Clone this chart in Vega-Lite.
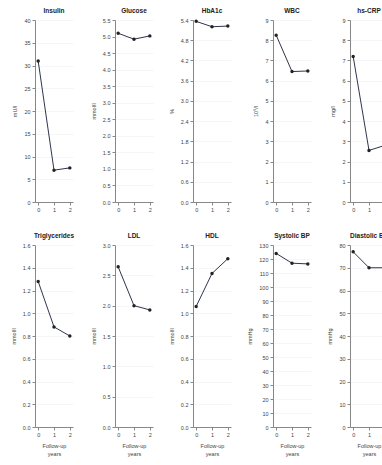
{
  "$schema": "https://vega.github.io/schema/vega-lite/v6.json",
  "background": "white",
  "padding": {"left": 11, "top": 7, "right": 0, "bottom": 0},
  "data": {"values": [
    {"m": "Insulin", "year": 0, "value": 31},
    {"m": "Insulin", "year": 1, "value": 7},
    {"m": "Insulin", "year": 2, "value": 7.5},
    {"m": "Glucose", "year": 0, "value": 5.1},
    {"m": "Glucose", "year": 1, "value": 4.92},
    {"m": "Glucose", "year": 2, "value": 5.02},
    {"m": "HbA1c", "year": 0, "value": 5.36},
    {"m": "HbA1c", "year": 1, "value": 5.2},
    {"m": "HbA1c", "year": 2, "value": 5.22},
    {"m": "WBC", "year": 0, "value": 8.25},
    {"m": "WBC", "year": 1, "value": 6.45},
    {"m": "WBC", "year": 2, "value": 6.48},
    {"m": "hs-CRP", "year": 0, "value": 7.2},
    {"m": "hs-CRP", "year": 1, "value": 2.55},
    {"m": "hs-CRP", "year": 2, "value": 2.8},
    {"m": "Triglycerides", "year": 0, "value": 1.28},
    {"m": "Triglycerides", "year": 1, "value": 0.88},
    {"m": "Triglycerides", "year": 2, "value": 0.8},
    {"m": "LDL", "year": 0, "value": 2.64},
    {"m": "LDL", "year": 1, "value": 2.0},
    {"m": "LDL", "year": 2, "value": 1.93},
    {"m": "HDL", "year": 0, "value": 1.06},
    {"m": "HDL", "year": 1, "value": 1.35},
    {"m": "HDL", "year": 2, "value": 1.48},
    {"m": "Systolic BP", "year": 0, "value": 124},
    {"m": "Systolic BP", "year": 1, "value": 117},
    {"m": "Systolic BP", "year": 2, "value": 116.5},
    {"m": "Diastolic BP", "year": 0, "value": 77},
    {"m": "Diastolic BP", "year": 1, "value": 70},
    {"m": "Diastolic BP", "year": 2, "value": 70}
  ]},
  "columns": 5,
  "spacing": {"column": 16, "row": 19},
  "concat": [
    {
      "title": "Insulin",
      "transform": [{"filter": "datum.m === 'Insulin'"}],
      "width": 38, "height": 182,
      "encoding": {
        "x": {"field": "year", "type": "ordinal", "scale": {"type": "point", "padding": 0.2}, "axis": {"title": null, "labelAngle": 0}},
        "y": {"field": "value", "type": "quantitative", "scale": {"domain": [0, 40]}, "axis": {"title": "mU/l", "values": [0, 5, 10, 15, 20, 25, 30, 35, 40]}}
      },
      "layer": [
        {"mark": {"type": "line", "color": "#2f3550", "strokeWidth": 1}},
        {"mark": {"type": "point", "filled": true, "size": 12, "color": "#222", "opacity": 1}}
      ]
    },
    {
      "title": "Glucose",
      "transform": [{"filter": "datum.m === 'Glucose'"}],
      "width": 38, "height": 182,
      "encoding": {
        "x": {"field": "year", "type": "ordinal", "scale": {"type": "point", "padding": 0.2}, "axis": {"title": null, "labelAngle": 0}},
        "y": {"field": "value", "type": "quantitative", "scale": {"domain": [0, 5.5]}, "axis": {"title": "mmol/l", "format": ".1f", "values": [0, 0.5, 1, 1.5, 2, 2.5, 3, 3.5, 4, 4.5, 5, 5.5]}}
      },
      "layer": [
        {"mark": {"type": "line", "color": "#2f3550", "strokeWidth": 1}},
        {"mark": {"type": "point", "filled": true, "size": 12, "color": "#222", "opacity": 1}}
      ]
    },
    {
      "title": "HbA1c",
      "transform": [{"filter": "datum.m === 'HbA1c'"}],
      "width": 38, "height": 182,
      "encoding": {
        "x": {"field": "year", "type": "ordinal", "scale": {"type": "point", "padding": 0.2}, "axis": {"title": null, "labelAngle": 0}},
        "y": {"field": "value", "type": "quantitative", "scale": {"domain": [0, 5.4]}, "axis": {"title": "%", "format": ".1f", "values": [0, 0.6, 1.2, 1.8, 2.4, 3.0, 3.6, 4.2, 4.8, 5.4]}}
      },
      "layer": [
        {"mark": {"type": "line", "color": "#2f3550", "strokeWidth": 1}},
        {"mark": {"type": "point", "filled": true, "size": 12, "color": "#222", "opacity": 1}}
      ]
    },
    {
      "title": "WBC",
      "transform": [{"filter": "datum.m === 'WBC'"}],
      "width": 38, "height": 182,
      "encoding": {
        "x": {"field": "year", "type": "ordinal", "scale": {"type": "point", "padding": 0.2}, "axis": {"title": null, "labelAngle": 0}},
        "y": {"field": "value", "type": "quantitative", "scale": {"domain": [0, 9]}, "axis": {"title": "10⁹/l", "values": [0, 1, 2, 3, 4, 5, 6, 7, 8, 9]}}
      },
      "layer": [
        {"mark": {"type": "line", "color": "#2f3550", "strokeWidth": 1}},
        {"mark": {"type": "point", "filled": true, "size": 12, "color": "#222", "opacity": 1}}
      ]
    },
    {
      "title": "hs-CRP",
      "transform": [{"filter": "datum.m === 'hs-CRP'"}],
      "width": 38, "height": 182,
      "encoding": {
        "x": {"field": "year", "type": "ordinal", "scale": {"type": "point", "padding": 0.2}, "axis": {"title": null, "labelAngle": 0}},
        "y": {"field": "value", "type": "quantitative", "scale": {"domain": [0, 9]}, "axis": {"title": "mg/l", "values": [0, 1, 2, 3, 4, 5, 6, 7, 8, 9]}}
      },
      "layer": [
        {"mark": {"type": "line", "color": "#2f3550", "strokeWidth": 1}},
        {"mark": {"type": "point", "filled": true, "size": 12, "color": "#222", "opacity": 1}}
      ]
    },
    {
      "title": "Triglycerides",
      "transform": [{"filter": "datum.m === 'Triglycerides'"}],
      "width": 38, "height": 182,
      "encoding": {
        "x": {"field": "year", "type": "ordinal", "scale": {"type": "point", "padding": 0.2}, "axis": {"title": ["Follow-up", "years"], "labelAngle": 0}},
        "y": {"field": "value", "type": "quantitative", "scale": {"domain": [0, 1.6]}, "axis": {"title": "mmol/l", "format": ".1f", "values": [0, 0.2, 0.4, 0.6, 0.8, 1.0, 1.2, 1.4, 1.6]}}
      },
      "layer": [
        {"mark": {"type": "line", "color": "#2f3550", "strokeWidth": 1}},
        {"mark": {"type": "point", "filled": true, "size": 12, "color": "#222", "opacity": 1}}
      ]
    },
    {
      "title": "LDL",
      "transform": [{"filter": "datum.m === 'LDL'"}],
      "width": 38, "height": 182,
      "encoding": {
        "x": {"field": "year", "type": "ordinal", "scale": {"type": "point", "padding": 0.2}, "axis": {"title": ["Follow-up", "years"], "labelAngle": 0}},
        "y": {"field": "value", "type": "quantitative", "scale": {"domain": [0, 3.0]}, "axis": {"title": "mmol/l", "format": ".1f", "values": [0, 0.5, 1.0, 1.5, 2.0, 2.5, 3.0]}}
      },
      "layer": [
        {"mark": {"type": "line", "color": "#2f3550", "strokeWidth": 1}},
        {"mark": {"type": "point", "filled": true, "size": 12, "color": "#222", "opacity": 1}}
      ]
    },
    {
      "title": "HDL",
      "transform": [{"filter": "datum.m === 'HDL'"}],
      "width": 38, "height": 182,
      "encoding": {
        "x": {"field": "year", "type": "ordinal", "scale": {"type": "point", "padding": 0.2}, "axis": {"title": ["Follow-up", "years"], "labelAngle": 0}},
        "y": {"field": "value", "type": "quantitative", "scale": {"domain": [0, 1.6]}, "axis": {"title": "mmol/l", "format": ".1f", "values": [0, 0.2, 0.4, 0.6, 0.8, 1.0, 1.2, 1.4, 1.6]}}
      },
      "layer": [
        {"mark": {"type": "line", "color": "#2f3550", "strokeWidth": 1}},
        {"mark": {"type": "point", "filled": true, "size": 12, "color": "#222", "opacity": 1}}
      ]
    },
    {
      "title": "Systolic BP",
      "transform": [{"filter": "datum.m === 'Systolic BP'"}],
      "width": 38, "height": 182,
      "encoding": {
        "x": {"field": "year", "type": "ordinal", "scale": {"type": "point", "padding": 0.2}, "axis": {"title": ["Follow-up", "years"], "labelAngle": 0}},
        "y": {"field": "value", "type": "quantitative", "scale": {"domain": [0, 130]}, "axis": {"title": "mmHg", "values": [0, 10, 20, 30, 40, 50, 60, 70, 80, 90, 100, 110, 120, 130]}}
      },
      "layer": [
        {"mark": {"type": "line", "color": "#2f3550", "strokeWidth": 1}},
        {"mark": {"type": "point", "filled": true, "size": 12, "color": "#222", "opacity": 1}}
      ]
    },
    {
      "title": "Diastolic BP",
      "transform": [{"filter": "datum.m === 'Diastolic BP'"}],
      "width": 38, "height": 182,
      "encoding": {
        "x": {"field": "year", "type": "ordinal", "scale": {"type": "point", "padding": 0.2}, "axis": {"title": ["Follow-up", "years"], "labelAngle": 0}},
        "y": {"field": "value", "type": "quantitative", "scale": {"domain": [0, 80]}, "axis": {"title": "mmHg", "values": [0, 10, 20, 30, 40, 50, 60, 70, 80]}}
      },
      "layer": [
        {"mark": {"type": "line", "color": "#2f3550", "strokeWidth": 1}},
        {"mark": {"type": "point", "filled": true, "size": 12, "color": "#222", "opacity": 1}}
      ]
    }
  ],
  "config": {
    "font": "Liberation Sans",
    "view": {"stroke": null},
    "title": {"fontSize": 6.5, "fontWeight": "bold", "color": "#222", "offset": 4},
    "axis": {
      "labelFontSize": 5.5,
      "titleFontSize": 5.5,
      "titleFontWeight": "normal",
      "labelColor": "#444",
      "titleColor": "#444",
      "domainColor": "#888",
      "tickColor": "#888",
      "tickSize": 3,
      "labelPadding": 2,
      "titlePadding": 6,
      "gridColor": "#f0f0f0",
      "gridWidth": 0.6
    },
    "axisX": {"grid": false}
  }
}
